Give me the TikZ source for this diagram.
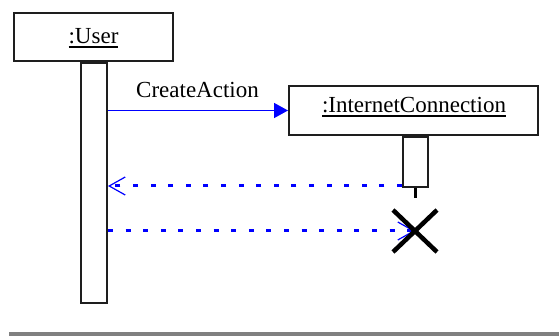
\documentclass[tikz,border=0pt]{standalone}
\usepackage{fontspec}
\setmainfont{Liberation Serif}
\usetikzlibrary{arrows.meta}
\definecolor{msgblue}{RGB}{0,0,255}
\definecolor{frame}{RGB}{30,30,30}
\definecolor{barGray}{RGB}{128,128,128}
% object names: underlined with a heavier rule set close to the baseline
\newcommand\objname[1]{\leavevmode\vtop{\hbox{#1}\kern1.6pt\hrule height 1.8pt}}
\tikzset{
  objbox/.style={draw=frame, line width=2pt, fill=white, inner sep=0pt},
  actbox/.style={draw=frame, line width=2pt, fill=white, inner sep=0pt},
  lbl/.style={anchor=base, inner sep=0pt, font=\fontsize{23}{27}\selectfont},
  callmsg/.style={draw=msgblue, line width=1.5pt, -{Triangle[length=14pt,width=15pt]}},
  dotmsg/.style={draw=msgblue, line width=3pt, dash pattern=on 5pt off 12.6pt,
                 -{Straight Barb[length=16pt,width=18pt,line width=1.2pt]}},
  destroy/.style={draw=black, line width=4.5pt}
}
\begin{document}
\begin{tikzpicture}[x=1pt,y=-1pt]
\useasboundingbox (0,0) rectangle (559,336);
\fill[white] (0,0) rectangle (559,336);

% :User object and its lifeline
\node[objbox, minimum width=159pt, minimum height=48pt] (user) at (93.5,37) {};
\node[actbox, minimum width=26pt, minimum height=240pt, anchor=north] (ul) at (user.south -| 94,0) {};
\node[lbl] (userlbl) at (93.5,44) {\objname{:User}};

% :InternetConnection object and its activation
\node[objbox, minimum width=249pt, minimum height=49pt] (ic) at (413.5,110.5) {};
\node[actbox, minimum width=25pt, minimum height=50pt, anchor=north] (ia) at (ic.south -| 415.5,0) {};
\node[lbl] (iclbl) at (414,113) {\objname{:InternetConnection}};

% destruction mark
\coordinate (xend) at (415,231);
\coordinate (stub) at (415,198);
\draw[draw=black, line width=3pt] (ia.south -| xend) -- (stub);

% messages
\draw[callmsg] (ul.east |- ic.west) -- (ic.west);
\node[lbl] (calllbl) at (197.5,98) {CreateAction};
\draw[dotmsg] ([yshift=2pt]ia.south west) -- ([yshift=2pt]ia.south west -| ul.east);
\draw[dotmsg] (ul.east |- xend) -- (xend);

\draw[destroy] ([shift={(-22,-21)}]xend) -- ([shift={(22,21)}]xend);
\draw[destroy] ([shift={(22,-21)}]xend) -- ([shift={(-22,21)}]xend);

% bottom rule
\fill[barGray] (9,332) rectangle (559,336);
\end{tikzpicture}
\end{document}
